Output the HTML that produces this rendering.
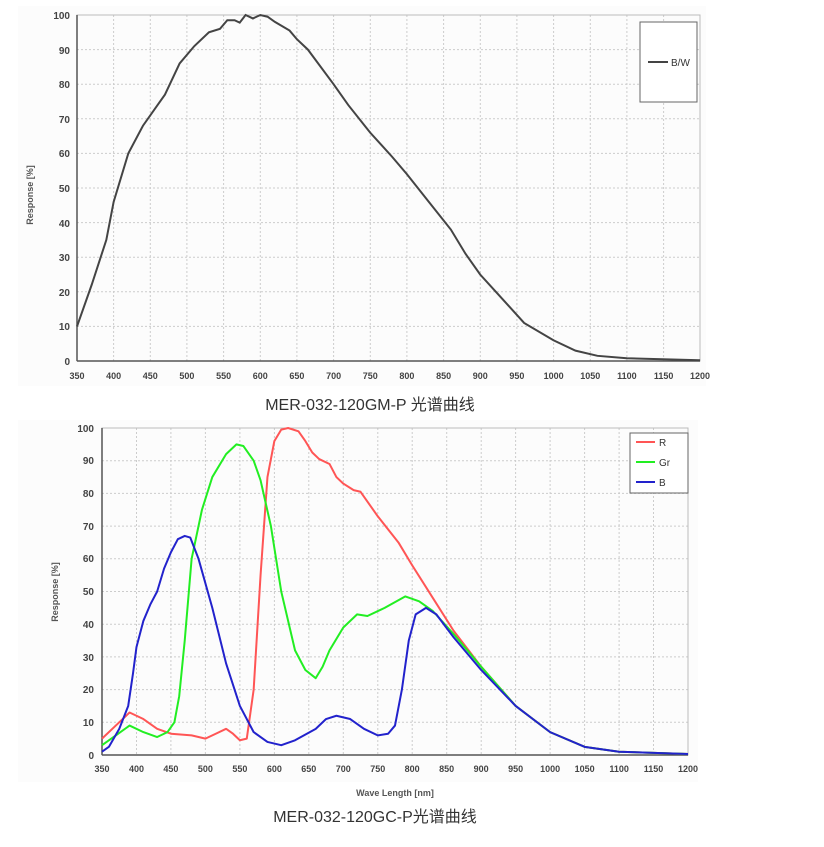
<!DOCTYPE html>
<html><head><meta charset="utf-8"><style>
body{margin:0;background:#fff;width:824px;height:842px;overflow:hidden}
text{font-family:"Liberation Sans",sans-serif}
</style></head><body>
<svg width="824" height="842" xmlns="http://www.w3.org/2000/svg">
<rect x="18" y="6" width="688" height="380" fill="#fcfcfc"/>
<rect x="18" y="420" width="680" height="362" fill="#fcfcfc"/>
<!-- TOP CHART -->
<g stroke="#ccc" stroke-dasharray="2,2" stroke-width="1">
<line x1="113.6" y1="15" x2="113.6" y2="361"/><line x1="150.3" y1="15" x2="150.3" y2="361"/><line x1="186.9" y1="15" x2="186.9" y2="361"/><line x1="223.6" y1="15" x2="223.6" y2="361"/><line x1="260.3" y1="15" x2="260.3" y2="361"/><line x1="296.9" y1="15" x2="296.9" y2="361"/><line x1="333.6" y1="15" x2="333.6" y2="361"/><line x1="370.3" y1="15" x2="370.3" y2="361"/><line x1="406.9" y1="15" x2="406.9" y2="361"/><line x1="443.6" y1="15" x2="443.6" y2="361"/><line x1="480.3" y1="15" x2="480.3" y2="361"/><line x1="516.9" y1="15" x2="516.9" y2="361"/><line x1="553.6" y1="15" x2="553.6" y2="361"/><line x1="590.3" y1="15" x2="590.3" y2="361"/><line x1="626.9" y1="15" x2="626.9" y2="361"/><line x1="663.6" y1="15" x2="663.6" y2="361"/>
<line x1="77" y1="326.4" x2="700" y2="326.4"/><line x1="77" y1="291.8" x2="700" y2="291.8"/><line x1="77" y1="257.2" x2="700" y2="257.2"/><line x1="77" y1="222.6" x2="700" y2="222.6"/><line x1="77" y1="188" x2="700" y2="188"/><line x1="77" y1="153.4" x2="700" y2="153.4"/><line x1="77" y1="118.8" x2="700" y2="118.8"/><line x1="77" y1="84.2" x2="700" y2="84.2"/><line x1="77" y1="49.6" x2="700" y2="49.6"/>
</g>
<rect x="77" y="15" width="623" height="346" fill="none" stroke="#bbb"/>
<line x1="77" y1="15" x2="77" y2="361" stroke="#555" stroke-width="1.5"/>
<line x1="77" y1="361" x2="700" y2="361" stroke="#555" stroke-width="1.5"/>
<g font-size="10" font-weight="bold" fill="#444" text-anchor="end">
<text x="70" y="365">0</text><text x="70" y="330">10</text><text x="70" y="296">20</text><text x="70" y="261">30</text><text x="70" y="227">40</text><text x="70" y="192">50</text><text x="70" y="157">60</text><text x="70" y="123">70</text><text x="70" y="88">80</text><text x="70" y="54">90</text><text x="70" y="19">100</text>
</g>
<g font-size="9" font-weight="bold" fill="#444" text-anchor="middle">
<text x="77" y="379">350</text><text x="113.6" y="379">400</text><text x="150.3" y="379">450</text><text x="186.9" y="379">500</text><text x="223.6" y="379">550</text><text x="260.3" y="379">600</text><text x="296.9" y="379">650</text><text x="333.6" y="379">700</text><text x="370.3" y="379">750</text><text x="406.9" y="379">800</text><text x="443.6" y="379">850</text><text x="480.3" y="379">900</text><text x="516.9" y="379">950</text><text x="553.6" y="379">1000</text><text x="590.3" y="379">1050</text><text x="626.9" y="379">1100</text><text x="663.6" y="379">1150</text><text x="700" y="379">1200</text>
</g>
<text x="33" y="195" font-size="9" font-weight="bold" fill="#555" text-anchor="middle" transform="rotate(-90 33 195)">Response  [%]</text>
<g transform="translate(77,361) scale(0.733,-3.46) translate(-350,0)">
<polyline fill="none" stroke="#444" stroke-width="2" vector-effect="non-scaling-stroke" points="350,10 370,22 390,35 400,46 420,60 440,68 460,74 470,77 490,86 510,91 530,95 545,96 555,98.5 565,98.5 572,97.8 580,100 590,99 600,100 610,99.5 620,98 640,95.5 650,93 665,90 700,80 710,77 720,74 750,66 780,59 800,54 830,46 860,38 880,31 900,25 930,18 960,11 1000,6 1030,3 1060,1.5 1100,0.8 1200,0.2"/>
</g>
<rect x="640" y="22" width="57" height="80" fill="#fff" stroke="#666"/>
<line x1="648" y1="62" x2="668" y2="62" stroke="#444" stroke-width="2"/>
<text x="671" y="66" font-size="10" fill="#333">B/W</text>
<text x="370" y="410" font-size="16" fill="#333" text-anchor="middle" style="font-family:'Liberation Sans','Noto Sans CJK SC',sans-serif">MER-032-120GM-P 光谱曲线</text>
<!-- BOTTOM CHART -->
<g stroke="#ccc" stroke-dasharray="2,2" stroke-width="1">
<line x1="136.5" y1="428" x2="136.5" y2="755"/><line x1="170.9" y1="428" x2="170.9" y2="755"/><line x1="205.4" y1="428" x2="205.4" y2="755"/><line x1="239.9" y1="428" x2="239.9" y2="755"/><line x1="274.4" y1="428" x2="274.4" y2="755"/><line x1="308.8" y1="428" x2="308.8" y2="755"/><line x1="343.3" y1="428" x2="343.3" y2="755"/><line x1="377.8" y1="428" x2="377.8" y2="755"/><line x1="412.2" y1="428" x2="412.2" y2="755"/><line x1="446.7" y1="428" x2="446.7" y2="755"/><line x1="481.2" y1="428" x2="481.2" y2="755"/><line x1="515.6" y1="428" x2="515.6" y2="755"/><line x1="550.1" y1="428" x2="550.1" y2="755"/><line x1="584.6" y1="428" x2="584.6" y2="755"/><line x1="619.1" y1="428" x2="619.1" y2="755"/><line x1="653.5" y1="428" x2="653.5" y2="755"/>
<line x1="102" y1="722.3" x2="688" y2="722.3"/><line x1="102" y1="689.6" x2="688" y2="689.6"/><line x1="102" y1="656.9" x2="688" y2="656.9"/><line x1="102" y1="624.2" x2="688" y2="624.2"/><line x1="102" y1="591.5" x2="688" y2="591.5"/><line x1="102" y1="558.8" x2="688" y2="558.8"/><line x1="102" y1="526.1" x2="688" y2="526.1"/><line x1="102" y1="493.4" x2="688" y2="493.4"/><line x1="102" y1="460.7" x2="688" y2="460.7"/>
</g>
<rect x="102" y="428" width="586" height="327" fill="none" stroke="#bbb"/>
<line x1="102" y1="428" x2="102" y2="755" stroke="#555" stroke-width="1.5"/>
<line x1="102" y1="755" x2="688" y2="755" stroke="#555" stroke-width="1.5"/>
<g font-size="10" font-weight="bold" fill="#444" text-anchor="end">
<text x="94" y="759">0</text><text x="94" y="726">10</text><text x="94" y="693">20</text><text x="94" y="661">30</text><text x="94" y="628">40</text><text x="94" y="595">50</text><text x="94" y="562">60</text><text x="94" y="530">70</text><text x="94" y="497">80</text><text x="94" y="464">90</text><text x="94" y="432">100</text>
</g>
<g font-size="9" font-weight="bold" fill="#444" text-anchor="middle">
<text x="102" y="772">350</text><text x="136.5" y="772">400</text><text x="170.9" y="772">450</text><text x="205.4" y="772">500</text><text x="239.9" y="772">550</text><text x="274.4" y="772">600</text><text x="308.8" y="772">650</text><text x="343.3" y="772">700</text><text x="377.8" y="772">750</text><text x="412.2" y="772">800</text><text x="446.7" y="772">850</text><text x="481.2" y="772">900</text><text x="515.6" y="772">950</text><text x="550.1" y="772">1000</text><text x="584.6" y="772">1050</text><text x="619.1" y="772">1100</text><text x="653.5" y="772">1150</text><text x="688" y="772">1200</text>
</g>
<text x="58" y="592" font-size="9" font-weight="bold" fill="#555" text-anchor="middle" transform="rotate(-90 58 592)">Response  [%]</text>
<text x="395" y="796" font-size="9" font-weight="bold" fill="#555" text-anchor="middle">Wave Length [nm]</text>
<g transform="translate(102,755) scale(0.6894,-3.27) translate(-350,0)" fill="none" stroke-width="2" stroke-linejoin="round">
<polyline stroke="#ff5555" vector-effect="non-scaling-stroke" points="350,5 370,9 390,13 410,11 430,8 450,6.5 480,6 500,5 515,6.5 530,8 540,6.5 550,4.5 560,5 570,20 580,55 590,85 600,96 610,99.5 620,100 635,99 645,96 655,92.5 665,90.5 680,89 690,85 700,83 715,81 725,80.5 750,73 780,65 800,58 830,48 860,38 900,27 950,15 1000,7 1050,2.5 1100,1 1200,0.3"/>
<polyline stroke="#22ee22" vector-effect="non-scaling-stroke" points="350,3 370,6 390,9 410,7 430,5.5 445,7 455,10 462,18 470,35 480,60 495,75 510,85 530,92 545,95 555,94.5 570,90 580,84 595,70 610,50 630,32 645,26 660,23.5 670,27 680,32 700,39 720,43 735,42.5 760,45 790,48.5 810,47 830,44 860,37 900,27 950,15 1000,7 1050,2.5 1100,1 1200,0.3"/>
<polyline stroke="#2222cc" vector-effect="non-scaling-stroke" points="350,1 360,2.5 375,8 388,15 395,25 400,33 410,41 420,46 430,50 440,57 450,62 460,66 470,67 478,66.5 490,60 510,45 530,28 550,15 570,7 590,4 610,3 630,4.5 660,8 675,11 690,12 710,11 730,8 750,6 765,6.5 775,9 785,20 795,35 805,43 820,45 835,43 860,36 900,26 950,15 1000,7 1050,2.5 1100,1 1200,0.3"/>
</g>
<rect x="630" y="433" width="58" height="60" fill="#fff" stroke="#666"/>
<line x1="636" y1="442" x2="655" y2="442" stroke="#ff5555" stroke-width="2"/><text x="659" y="446" font-size="10" fill="#333">R</text>
<line x1="636" y1="462" x2="655" y2="462" stroke="#22ee22" stroke-width="2"/><text x="659" y="466" font-size="10" fill="#333">Gr</text>
<line x1="636" y1="482" x2="655" y2="482" stroke="#2222cc" stroke-width="2"/><text x="659" y="486" font-size="10" fill="#333">B</text>
<text x="375" y="822" font-size="16" fill="#333" text-anchor="middle" style="font-family:'Liberation Sans','Noto Sans CJK SC',sans-serif">MER-032-120GC-P光谱曲线</text>
</svg>
</body></html>
